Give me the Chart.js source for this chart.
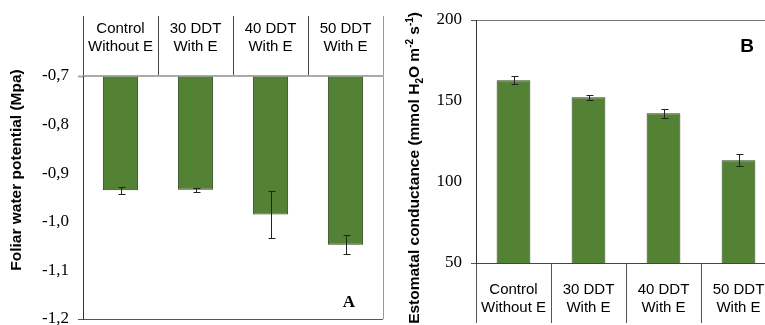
<!DOCTYPE html>
<html><head><meta charset="utf-8">
<script src="https://cdn.jsdelivr.net/npm/chart.js@4.4.1/dist/chart.umd.min.js"></script>
<style>
html,body{margin:0;padding:0;background:#fff;overflow:hidden;width:765px;height:325px;position:relative;}
#a{position:absolute;left:0;top:0;}
#b{position:absolute;left:390px;top:0;}
</style></head><body>
<canvas id="a" width="390" height="325"></canvas>
<canvas id="b" width="400" height="325"></canvas>
<script>
const categories = [['Control','Without E'],['30 DDT','With E'],['40 DDT','With E'],['50 DDT','With E']];
const waterPotential = [-0.935, -0.934, -0.985, -1.047];
const waterPotentialErr = [0.007, 0.004, 0.048, 0.02];
const conductance = [162.8, 152.3, 142.4, 113.4];
const conductanceErr = [2.4, 1.6, 2.8, 3.8];
const ticksA = [-1.2, -1.1, -1.0, -0.9, -0.8, -0.7];
const ticksB = [50, 100, 150, 200];
const titleA = [{t:'Foliar water potential (Mpa)', k:'n'}];
const titleB = [{t:'Estomatal conductance (mmol H', k:'n'},{t:'2', k:'sub'},{t:'O m', k:'n'},{t:'-2', k:'sup'},{t:' s', k:'n'},{t:'-1', k:'sup'},{t:')', k:'n'}];

const GREEN = '#548235';
const EDGE = '#2c4419';
const SANS = '"Liberation Sans", Arial, sans-serif';
const SERIF = '"Liberation Serif", "Times New Roman", serif';
const NONE = 'rgba(0,0,0,0)';

const errorBars = {
  id: 'errorBars',
  afterDatasetsDraw(chart, args, o) {
    const ctx = chart.ctx, meta = chart.getDatasetMeta(0), ys = chart.scales.y;
    ctx.save();
    ctx.strokeStyle = o.color; ctx.lineWidth = 1;
    o.values.forEach((v, i) => {
      const x = Math.round(meta.data[i].x) + 0.5;
      const y1 = Math.round(ys.getPixelForValue(v - o.errors[i])) + 0.5;
      const y2 = Math.round(ys.getPixelForValue(v + o.errors[i])) + 0.5;
      ctx.beginPath();
      ctx.moveTo(x, y1); ctx.lineTo(x, y2);
      ctx.moveTo(x - o.cap, y1); ctx.lineTo(x + o.cap + 1, y1);
      ctx.moveTo(x - o.cap, y2); ctx.lineTo(x + o.cap + 1, y2);
      ctx.stroke();
    });
    ctx.restore();
  }
};

const annot = {
  id: 'annot',
  afterDraw(chart, args, o) {
    const ctx = chart.ctx, ca = chart.chartArea;
    ctx.save();
    ctx.fillStyle = '#000';
    const base = o.size;
    const fontFor = s => `bold ${s.k === 'n' ? base : Math.round(base * 0.62)}px ${SANS}`;
    let total = 0;
    o.segments.forEach(s => { ctx.font = fontFor(s); s.w = ctx.measureText(s.t).width; total += s.w; });
    const startY = o.anchor === 'center' ? o.y + total / 2 : o.y + total;
    ctx.translate(o.x, startY);
    ctx.rotate(-Math.PI / 2);
    ctx.textBaseline = 'middle';
    ctx.textAlign = 'left';
    let cx = 0;
    o.segments.forEach(s => {
      ctx.font = fontFor(s);
      const dy = s.k === 'sub' ? base * 0.32 : s.k === 'sup' ? -base * 0.3 : 0;
      ctx.fillText(s.t, cx, dy);
      cx += s.w;
    });
    ctx.restore();
    ctx.save();
    ctx.fillStyle = '#000';
    ctx.font = o.letterFont;
    ctx.textAlign = 'center';
    ctx.textBaseline = 'middle';
    ctx.fillText(o.letter, ca.left + o.lx, ca.top + o.ly);
    ctx.restore();
  }
};

new Chart(document.getElementById('a'), {
  type: 'bar',
  data: { labels: categories, datasets: [{ data: waterPotential, base: -0.7, backgroundColor: GREEN, borderColor: EDGE, borderWidth: 1, barPercentage: 0.47, categoryPercentage: 1 }] },
  options: {
    responsive: false, animation: false,
    layout: { padding: { top: 16, left: 0, right: 7, bottom: 6 } },
    plugins: {
      legend: { display: false }, tooltip: { enabled: false },
      errorBars: { values: waterPotential, errors: waterPotentialErr, color: '#222', cap: 3 },
      annot: { segments: titleA, size: 15.5, x: 17, y: 170, anchor: 'center', letter: 'A', letterFont: `bold 17px ${SERIF}`, lx: 266, ly: 227 }
    },
    scales: {
      x: {
        position: 'top', offset: true,
        grid: { offset: true, drawOnChartArea: true, color: c => c.type === 'scale' ? '#999' : NONE, tickLength: 60, tickColor: c => c.type === 'scale' ? '#999' : '#444', lineWidth: 1 },
        border: { display: true, color: '#aaa', width: 2 },
        ticks: { padding: -40, font: { family: SANS, size: 15, lineHeight: 1.2 }, color: '#000', maxRotation: 0, autoSkip: false },
        afterFit: s => { s.height = 60; s.paddingLeft = 0; s.paddingRight = 0; }
      },
      y: {
        min: -1.2, max: -0.7,
        afterBuildTicks: s => { s.ticks = ticksA.map(v => ({ value: v })); },
        grid: { color: c => c.index === 0 ? '#555' : NONE, tickLength: 5, tickColor: c => c.index === 0 ? '#555' : c.index === 5 ? '#aaa' : NONE, tickWidth: c => c.index === 5 ? 2 : 1 },
        border: { color: '#333', width: 1 },
        ticks: { padding: 9, font: { family: SERIF, size: 17 }, color: '#000', callback: v => Number(v).toFixed(1).replace('.', ',') },
        afterFit: s => { s.width = 83; s.paddingTop = 0; s.paddingBottom = 0; }
      }
    }
  },
  plugins: [errorBars, annot]
});

new Chart(document.getElementById('b'), {
  type: 'bar',
  data: { labels: categories, datasets: [{ data: conductance, backgroundColor: GREEN, borderColor: EDGE, borderWidth: 1, barPercentage: 0.45, categoryPercentage: 1 }] },
  options: {
    responsive: false, animation: false,
    layout: { padding: { top: 20, left: 0, right: 14, bottom: 0 } },
    plugins: {
      legend: { display: false }, tooltip: { enabled: false },
      errorBars: { values: conductance, errors: conductanceErr, color: '#222', cap: 3 },
      annot: { segments: titleB, size: 15.5, x: 25, y: 12, anchor: 'end', letter: 'B', letterFont: `bold 19px ${SANS}`, lx: 271, ly: 27 }
    },
    scales: {
      x: {
        position: 'bottom', offset: true,
        grid: { offset: true, drawOnChartArea: true, color: c => c.type === 'scale' ? '#999' : NONE, tickLength: 60, tickColor: '#555', lineWidth: 1 },
        border: { display: true, color: '#444', width: 1 },
        ticks: { padding: -42, font: { family: SANS, size: 15, lineHeight: 1.2 }, color: '#000', maxRotation: 0, autoSkip: false },
        afterFit: s => { s.height = 62; s.paddingLeft = 0; s.paddingRight = 0; }
      },
      y: {
        min: 50, max: 200,
        afterBuildTicks: s => { s.ticks = ticksB.map(v => ({ value: v })); },
        grid: { color: c => c.index === 3 ? '#777' : NONE, tickLength: 5, tickColor: c => (c.index === 0 || c.index === 3) ? '#555' : NONE },
        border: { color: '#333', width: 1 },
        ticks: { padding: 9, font: { family: SERIF, size: 17 }, color: '#000' },
        afterFit: s => { s.width = 86; s.paddingTop = 0; s.paddingBottom = 0; }
      }
    }
  },
  plugins: [errorBars, annot]
});
</script>
</body></html>
